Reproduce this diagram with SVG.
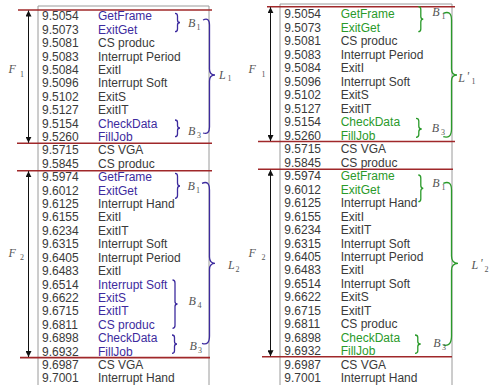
<svg xmlns="http://www.w3.org/2000/svg" width="490" height="385" viewBox="0 0 490 385">
<defs>
<style>
.t{font-family:"Liberation Sans",Arial,sans-serif;font-size:12px;fill:#3a3a3a}
.p{fill:#3d2b9e}
.g{fill:#2a9a2a}
.lb{font-family:"Liberation Serif","Times New Roman",serif;font-style:italic;font-size:12px;fill:#555}
.sb{font-family:"Liberation Serif","Times New Roman",serif;font-size:8px;fill:#555}
.box{fill:none;stroke:#9a9a9a;stroke-width:1}
.red{stroke:#a0282a;stroke-width:1.6;fill:none}
.arr{stroke:#111;stroke-width:1;fill:none;marker-start:url(#ah);marker-end:url(#ah)}
.bp{fill:none;stroke:#3d2b9e;stroke-width:1.3}
.bg{fill:none;stroke:#2a9a2a;stroke-width:1.3}
</style>
<marker id="ah" viewBox="0 0 10 10" refX="10" refY="5" markerWidth="6" markerHeight="6" markerUnits="userSpaceOnUse" orient="auto-start-reverse"><path d="M0,0 L10,5 L0,10 z" fill="#111"/></marker>
</defs>
<rect width="490" height="385" fill="#fff"/>

<g id="panel-left">
<path class="box" d="M38,385 V6 H209 V385"/>
<g id="l01"><text class="t" x="42" y="20.3">9.5054</text><text class="t p" x="98" y="20.3">GetFrame</text></g>
<g id="l02"><text class="t" x="42" y="33.7">9.5073</text><text class="t p" x="98" y="33.7">ExitGet</text></g>
<g id="l03"><text class="t" x="42" y="47.1">9.5081</text><text class="t" x="98" y="47.1">CS produc</text></g>
<g id="l04"><text class="t" x="42" y="60.5">9.5083</text><text class="t" x="98" y="60.5">Interrupt Period</text></g>
<g id="l05"><text class="t" x="42" y="73.9">9.5084</text><text class="t" x="98" y="73.9">ExitI</text></g>
<g id="l06"><text class="t" x="42" y="87.4">9.5096</text><text class="t" x="98" y="87.4">Interrupt Soft</text></g>
<g id="l07"><text class="t" x="42" y="100.8">9.5102</text><text class="t" x="98" y="100.8">ExitS</text></g>
<g id="l08"><text class="t" x="42" y="114.2">9.5127</text><text class="t" x="98" y="114.2">ExitIT</text></g>
<g id="l09"><text class="t" x="42" y="127.6">9.5154</text><text class="t p" x="98" y="127.6">CheckData</text></g>
<g id="l10"><text class="t" x="42" y="141.0">9.5260</text><text class="t p" x="98" y="141.0">FillJob</text></g>
<g id="l11"><text class="t" x="42" y="154.4">9.5715</text><text class="t" x="98" y="154.4">CS VGA</text></g>
<g id="l12"><text class="t" x="42" y="167.8">9.5845</text><text class="t" x="98" y="167.8">CS produc</text></g>
<g id="l13"><text class="t" x="42" y="181.2">9.5974</text><text class="t p" x="98" y="181.2">GetFrame</text></g>
<g id="l14"><text class="t" x="42" y="194.6">9.6012</text><text class="t p" x="98" y="194.6">ExitGet</text></g>
<g id="l15"><text class="t" x="42" y="208.0">9.6125</text><text class="t" x="98" y="208.0">Interrupt Hand</text></g>
<g id="l16"><text class="t" x="42" y="221.4">9.6155</text><text class="t" x="98" y="221.4">ExitI</text></g>
<g id="l17"><text class="t" x="42" y="234.9">9.6234</text><text class="t" x="98" y="234.9">ExitIT</text></g>
<g id="l18"><text class="t" x="42" y="248.3">9.6315</text><text class="t" x="98" y="248.3">Interrupt Soft</text></g>
<g id="l19"><text class="t" x="42" y="261.7">9.6405</text><text class="t" x="98" y="261.7">Interrupt Period</text></g>
<g id="l20"><text class="t" x="42" y="275.1">9.6483</text><text class="t" x="98" y="275.1">ExitI</text></g>
<g id="l21"><text class="t" x="42" y="288.5">9.6514</text><text class="t p" x="98" y="288.5">Interrupt Soft</text></g>
<g id="l22"><text class="t" x="42" y="301.9">9.6622</text><text class="t p" x="98" y="301.9">ExitS</text></g>
<g id="l23"><text class="t" x="42" y="315.3">9.6715</text><text class="t p" x="98" y="315.3">ExitIT</text></g>
<g id="l24"><text class="t" x="42" y="328.7">9.6811</text><text class="t p" x="98" y="328.7">CS produc</text></g>
<g id="l25"><text class="t" x="42" y="342.1">9.6898</text><text class="t p" x="98" y="342.1">CheckData</text></g>
<g id="l26"><text class="t" x="42" y="355.6">9.6932</text><text class="t p" x="98" y="355.6">FillJob</text></g>
<g id="l27"><text class="t" x="42" y="369.0">9.6987</text><text class="t" x="98" y="369.0">CS VGA</text></g>
<g id="l28"><text class="t" x="42" y="382.4">9.7001</text><text class="t" x="98" y="382.4">Interrupt Hand</text></g>
</g>

<g id="panel-right">
<path class="box" d="M280,385 V4 H452 V385"/>
<g id="r01"><text class="t" x="284.3" y="18.3">9.5054</text><text class="t g" x="340.7" y="18.3">GetFrame</text></g>
<g id="r02"><text class="t" x="284.3" y="31.8">9.5073</text><text class="t g" x="340.7" y="31.8">ExitGet</text></g>
<g id="r03"><text class="t" x="284.3" y="45.3">9.5081</text><text class="t" x="340.7" y="45.3">CS produc</text></g>
<g id="r04"><text class="t" x="284.3" y="58.7">9.5083</text><text class="t" x="340.7" y="58.7">Interrupt Period</text></g>
<g id="r05"><text class="t" x="284.3" y="72.2">9.5084</text><text class="t" x="340.7" y="72.2">ExitI</text></g>
<g id="r06"><text class="t" x="284.3" y="85.7">9.5096</text><text class="t" x="340.7" y="85.7">Interrupt Soft</text></g>
<g id="r07"><text class="t" x="284.3" y="99.2">9.5102</text><text class="t" x="340.7" y="99.2">ExitS</text></g>
<g id="r08"><text class="t" x="284.3" y="112.7">9.5127</text><text class="t" x="340.7" y="112.7">ExitIT</text></g>
<g id="r09"><text class="t" x="284.3" y="126.1">9.5154</text><text class="t g" x="340.7" y="126.1">CheckData</text></g>
<g id="r10"><text class="t" x="284.3" y="139.6">9.5260</text><text class="t g" x="340.7" y="139.6">FillJob</text></g>
<g id="r11"><text class="t" x="284.3" y="153.1">9.5715</text><text class="t" x="340.7" y="153.1">CS VGA</text></g>
<g id="r12"><text class="t" x="284.3" y="166.6">9.5845</text><text class="t" x="340.7" y="166.6">CS produc</text></g>
<g id="r13"><text class="t" x="284.3" y="180.1">9.5974</text><text class="t g" x="340.7" y="180.1">GetFrame</text></g>
<g id="r14"><text class="t" x="284.3" y="193.5">9.6012</text><text class="t g" x="340.7" y="193.5">ExitGet</text></g>
<g id="r15"><text class="t" x="284.3" y="207.0">9.6125</text><text class="t" x="340.7" y="207.0">Interrupt Hand</text></g>
<g id="r16"><text class="t" x="284.3" y="220.5">9.6155</text><text class="t" x="340.7" y="220.5">ExitI</text></g>
<g id="r17"><text class="t" x="284.3" y="234.0">9.6234</text><text class="t" x="340.7" y="234.0">ExitIT</text></g>
<g id="r18"><text class="t" x="284.3" y="247.5">9.6315</text><text class="t" x="340.7" y="247.5">Interrupt Soft</text></g>
<g id="r19"><text class="t" x="284.3" y="260.9">9.6405</text><text class="t" x="340.7" y="260.9">Interrupt Period</text></g>
<g id="r20"><text class="t" x="284.3" y="274.4">9.6483</text><text class="t" x="340.7" y="274.4">ExitI</text></g>
<g id="r21"><text class="t" x="284.3" y="287.9">9.6514</text><text class="t" x="340.7" y="287.9">Interrupt Soft</text></g>
<g id="r22"><text class="t" x="284.3" y="301.4">9.6622</text><text class="t" x="340.7" y="301.4">ExitS</text></g>
<g id="r23"><text class="t" x="284.3" y="314.9">9.6715</text><text class="t" x="340.7" y="314.9">ExitIT</text></g>
<g id="r24"><text class="t" x="284.3" y="328.3">9.6811</text><text class="t" x="340.7" y="328.3">CS produc</text></g>
<g id="r25"><text class="t" x="284.3" y="341.8">9.6898</text><text class="t g" x="340.7" y="341.8">CheckData</text></g>
<g id="r26"><text class="t" x="284.3" y="355.3">9.6932</text><text class="t g" x="340.7" y="355.3">FillJob</text></g>
<g id="r27"><text class="t" x="284.3" y="368.8">9.6987</text><text class="t" x="340.7" y="368.8">CS VGA</text></g>
<g id="r28"><text class="t" x="284.3" y="382.3">9.7001</text><text class="t" x="340.7" y="382.3">Interrupt Hand</text></g>
</g>

<g id="connectors">
<line class="red" x1="18" y1="10" x2="212" y2="10"/>
<line class="red" x1="17" y1="143.3" x2="212" y2="143.3"/>
<line class="red" x1="17" y1="170.7" x2="212" y2="170.7"/>
<line class="red" x1="20" y1="357.6" x2="210" y2="357.6"/>
<line class="red" x1="267" y1="6.7" x2="455" y2="6.7"/>
<line class="red" x1="258" y1="141.5" x2="455" y2="141.5"/>
<line class="red" x1="258" y1="169.3" x2="453" y2="169.3"/>
<line class="red" x1="262" y1="356.7" x2="452" y2="356.7"/>
<line class="arr" x1="28.5" y1="10.5" x2="28.5" y2="142.8"/>
<line class="arr" x1="28.5" y1="171.2" x2="28.5" y2="357"/>
<line class="arr" x1="270.5" y1="7.2" x2="270.5" y2="141"/>
<line class="arr" x1="270.5" y1="169.8" x2="270.5" y2="356.2"/>
</g>

<g id="braces-left">
<path class="bp" d="M175,13.3 Q177.5,13.3 177.5,16 V20 Q177.5,22.5 180,22.5 Q177.5,22.5 177.5,25 V29 Q177.5,31.7 175,31.7"/>
<path class="bp" d="M175,120 Q177.5,120 177.5,122.5 V125.5 Q177.5,128 180,128 Q177.5,128 177.5,130.5 V134 Q177.5,136.7 175,136.7"/>
<path class="bp" d="M175,173.3 Q177.5,173.3 177.5,176 V183 Q177.5,186 180,186 Q177.5,186 177.5,189 V195.5 Q177.5,198.3 175,198.3"/>
<path class="bp" d="M172.5,280 Q175,280 175,283 V301.5 Q175,304 177.5,304 Q175,304 175,306.5 V325.5 Q175,328.3 172.5,328.3"/>
<path class="bp" d="M172,335 Q174.5,335 174.5,337.5 V341.5 Q174.5,344 177,344 Q174.5,344 174.5,346.5 V350.8 Q174.5,353.3 172,353.3"/>
<path class="bp" d="M203,20 Q209.5,17 209.5,25 V69 Q209.5,75 215,75 Q209.5,75 209.5,81 V127 Q209.5,135 203,133"/>
<path class="bp" d="M202,183.3 Q209.5,180 209.5,190 V257 Q209.5,263.3 215,263.3 Q209.5,263.3 209.5,269.5 V336 Q209.5,346 202,343.3"/>
</g>

<g id="braces-right">
<path class="bg" d="M418.3,6.7 Q420.8,6.7 420.8,9.5 V16.5 Q420.8,19.2 423.3,19.2 Q420.8,19.2 420.8,22 V29 Q420.8,31.7 418.3,31.7"/>
<path class="bg" d="M416,118.3 Q418.8,118.3 418.8,121 V126.3 Q418.8,129 421.7,129 Q418.8,129 418.8,131.7 V134.6 Q418.8,137.3 416,137.3"/>
<path class="bg" d="M418.3,175 Q420.8,175 420.8,178 V185.5 Q420.8,188.3 423.3,188.3 Q420.8,188.3 420.8,191 V199 Q420.8,201.7 418.3,201.7"/>
<path class="bg" d="M415,335 Q417.8,335 417.8,337.5 V341.5 Q417.8,344 420.7,344 Q417.8,344 417.8,346.5 V350.8 Q417.8,353.3 415,353.3"/>
<path class="bg" d="M443.3,13.3 Q451.5,10 451.5,20 V69 Q451.5,75 457,75 Q451.5,75 451.5,81 V129 Q451.5,139 443.3,136.7"/>
<path class="bg" d="M443.3,183.3 Q451.5,180 451.5,190 V256 Q451.5,263.3 458,263.3 Q451.5,263.3 451.5,270.5 V336 Q451.5,347 443.3,345"/>
</g>

<g id="labels">
<text class="lb" x="8.5" y="73.3">F</text><text class="sb" x="20" y="76.5">1</text>
<text class="lb" x="8.5" y="257">F</text><text class="sb" x="20" y="260">2</text>
<text class="lb" x="248.5" y="73.3">F</text><text class="sb" x="261.5" y="76.5">1</text>
<text class="lb" x="248.5" y="257">F</text><text class="sb" x="261.5" y="260">2</text>
<text class="lb" x="188" y="26.7">B</text><text class="sb" x="196.5" y="30">1</text>
<text class="lb" x="219" y="79">L</text><text class="sb" x="227.5" y="81">1</text>
<text class="lb" x="188" y="135">B</text><text class="sb" x="197" y="138">3</text>
<text class="lb" x="187.5" y="190">B</text><text class="sb" x="196" y="193">1</text>
<text class="lb" x="228" y="268.5">L</text><text class="sb" x="235.5" y="271.5">2</text>
<text class="lb" x="188.5" y="305">B</text><text class="sb" x="197.5" y="308">4</text>
<text class="lb" x="189.5" y="350">B</text><text class="sb" x="198" y="353">3</text>
<text class="lb" x="432.3" y="15.5">B</text><text class="sb" x="441.5" y="18.5">1</text>
<text class="lb" x="458.3" y="81.5">L</text><text class="lb" x="466.5" y="80">'</text><text class="sb" x="471.5" y="84">1</text>
<text class="lb" x="431.7" y="132">B</text><text class="sb" x="441" y="135">3</text>
<text class="lb" x="432.3" y="187">B</text><text class="sb" x="441.5" y="190">1</text>
<text class="lb" x="471.5" y="268.5">L</text><text class="lb" x="480" y="267">'</text><text class="sb" x="484.5" y="271.5">2</text>
<text class="lb" x="433.3" y="347">B</text><text class="sb" x="442" y="350">3</text>
</g>
</svg>
